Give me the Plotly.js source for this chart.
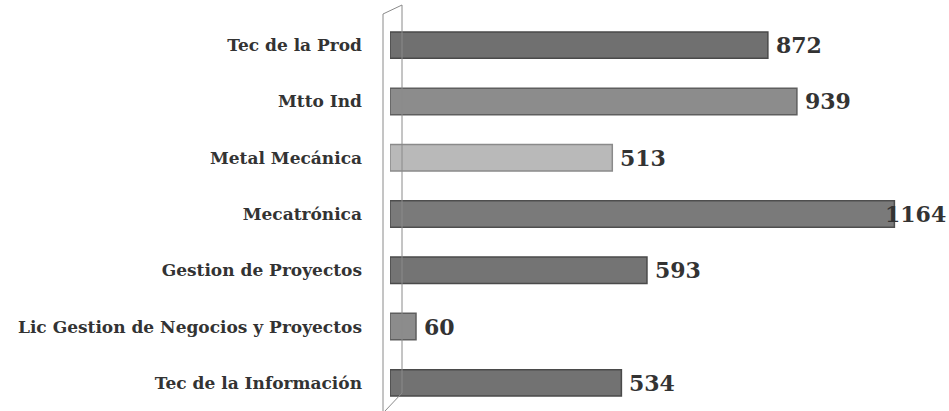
<!DOCTYPE html>
<html><head><meta charset="utf-8">
<script src="https://cdn.plot.ly/plotly-3.0.1.min.js"></script>
<style>body{margin:0;background:#fff}#c{width:949px;height:411px}</style>
</head><body><div id="c"></div>
<script>
const categories = ["Tec de la Información","Lic Gestion de Negocios y Proyectos","Gestion de Proyectos","Mecatrónica","Metal Mecánica","Mtto Ind","Tec de la Prod"];
const values = [534, 60, 593, 1164, 513, 939, 872];
const barColors = ["#727272","#8c8c8c","#747474","#7a7a7a","#b9b9b9","#8c8c8c","#707070"];
const edgeColors = ["#4a4a4a","#5e5e5e","#4a4a4a","#4e4e4e","#8a8a8a","#5e5e5e","#4a4a4a"];

const XMAX = 1290;
const PX_PER_UNIT = 559 / XMAX;
const valueFont = {family: "DejaVu Serif", size: 22, color: "#333", weight: "bold"};

const trace = {
  type: "bar", orientation: "h",
  y: categories, x: values,
  marker: {color: barColors, line: {color: edgeColors, width: 1.5}},
  width: 0.47,
  hoverinfo: "none"
};

const annotations = values.map((v, i) => {
  const txt = String(v);
  const estW = txt.length * 14 + 8;
  const fits = v * PX_PER_UNIT + estW <= 559;
  return {
    x: fits ? v : XMAX, y: categories[i], xref: "x", yref: "y",
    text: txt, showarrow: false,
    xanchor: fits ? "left" : "right", xshift: fits ? 6 : -1,
    font: valueFont
  };
});

const g = "#8a8a8a";
const L = (x0, y0, x1, y1) => ({type: "line", xref: "paper", yref: "paper",
  x0: x0 / 559, x1: x1 / 559, y0: y0 / 394, y1: y1 / 394, line: {color: g, width: 1}});

const layout = {
  width: 949, height: 411,
  margin: {l: 390, r: 0, t: 17, b: 0},
  paper_bgcolor: "#fff", plot_bgcolor: "rgba(0,0,0,0)",
  showlegend: false,
  xaxis: {range: [0, XMAX], visible: false, fixedrange: true},
  yaxis: {type: "category", range: [-0.5, 6.5], showgrid: false, zeroline: false,
    showline: false, ticks: "", ticklabelstandoff: 27,
    tickfont: {family: "DejaVu Serif", size: 17, color: "#333", weight: "bold"}},
  annotations: annotations,
  shapes: [
    L(-7, 0, -7, 397),
    L(12, 18, 12, 406),
    L(-7, 397, 12, 406),
    L(12, 18, -5, 0)
  ]
};
Plotly.newPlot("c", [trace], layout, {staticPlot: true});
</script></body></html>
